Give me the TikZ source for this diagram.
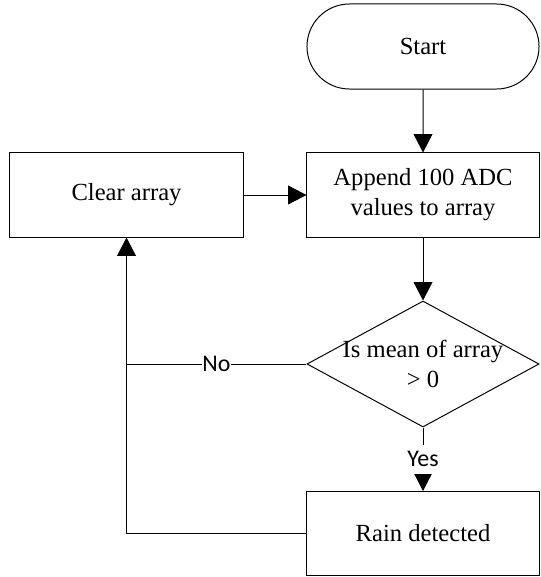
\documentclass[tikz,border=0pt]{standalone}
\usepackage{fontspec}
\setmainfont{Liberation Serif}
\newfontfamily\lblfont{Carlito}
\usetikzlibrary{shapes.geometric,shapes.misc,arrows.meta,positioning}

\begin{document}
\begin{tikzpicture}[x=0.025cm,y=-0.025cm,
  font=\fontsize{17.5}{21.5}\selectfont,
  every path/.style={line width=0.7pt},
  box/.style={draw,minimum width=5.8cm,minimum height=2.1cm,align=center,inner sep=0pt},
  term/.style={box,rounded rectangle,minimum height=2.125cm},
  decide/.style={draw,diamond,minimum width=5.8cm,minimum height=3.15cm,inner sep=0pt},
  flow/.style={-{Triangle[width=0.47cm,length=0.46cm]}},
  lbl/.style={fill=white,inner sep=0pt,font=\lblfont\fontsize{17}{20}\selectfont}]
  \useasboundingbox (0,0) rectangle (540,577);
  \node[term] (start) at (423,46.5) {Start};
  \node[box] (append) at (423,195) {Append 100 ADC\\values to array};
  \node[box,minimum width=5.825cm] (clear) at (126.5,195) {Clear array};
  \node[decide] (test) at (423,364) {};
  \node[align=center,inner sep=0pt] (testtext) at (test) {Is mean of array\\ > 0};
  \node[box] (rain) at (423,533.5) {Rain detected};
  \draw[flow] (start) -- (append);
  \draw[flow] (clear) -- (append);
  \draw[flow] (append) -- (test);
  \draw[flow] (test) -- node[lbl,minimum height=0.72cm] {Yes} (rain);
  \draw (test.west) -- node[lbl] {No} (test.west -| clear.south);
  \draw[flow] (rain.west) -| (clear.south);
\end{tikzpicture}
\end{document}
